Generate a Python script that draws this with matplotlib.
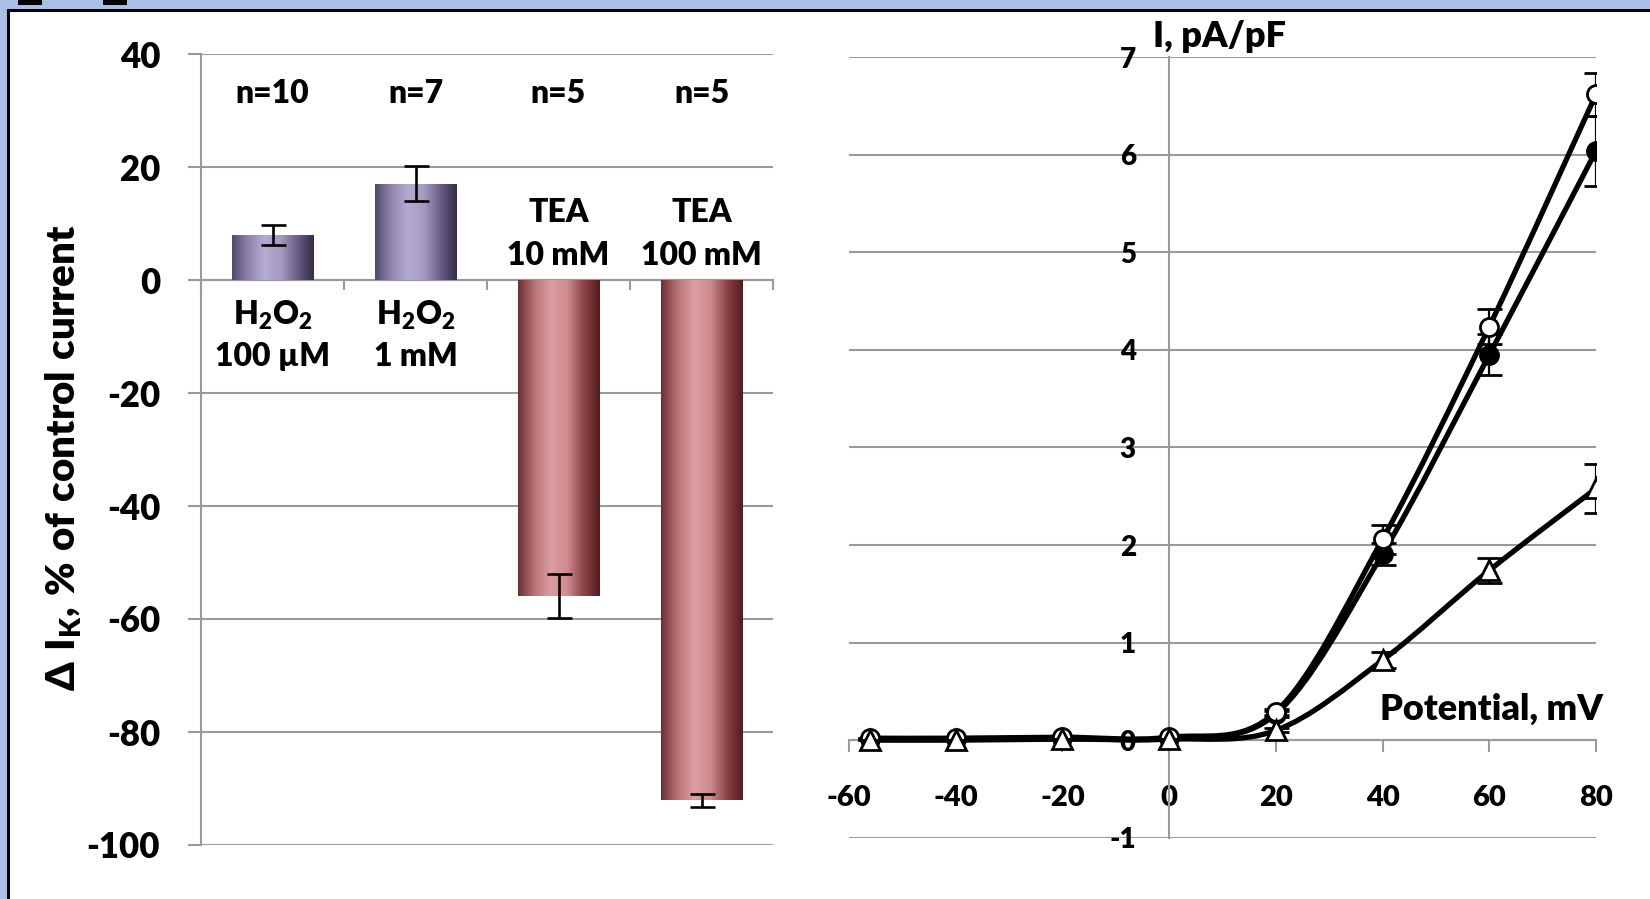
import matplotlib
matplotlib.use('Agg')
import matplotlib.pyplot as plt
import numpy as np
from matplotlib.colors import LinearSegmentedColormap
from matplotlib.patches import Rectangle, PathPatch
from matplotlib.path import Path

WT = 'heavy'
plt.rcParams['font.family'] = ['Lato', 'DejaVu Sans']
plt.rcParams['font.weight'] = WT
plt.rcParams['mathtext.fontset'] = 'custom'
plt.rcParams['mathtext.rm'] = 'Lato:heavy'
plt.rcParams['mathtext.it'] = 'Lato:heavy'
plt.rcParams['mathtext.bf'] = 'Lato:heavy'
plt.rcParams['mathtext.default'] = 'rm'

# left panel: change of K current, % of control
bar_n = ['n=10', 'n=7', 'n=5', 'n=5']
bar_line1 = ['$H_2O_2$', '$H_2O_2$', 'TEA', 'TEA']
bar_line2 = ['100 µM', '1 mM', '10 mM', '100 mM']
bar_vals = [8.0, 17.0, -55.9, -92.1]
bar_err = [1.8, 3.1, 3.9, 1.1]
left_yticks = [-100, -80, -60, -40, -20, 0, 20, 40]

# right panel: I-V curves
volt = [-56, -40, -20, 0, 20, 40, 60, 80]
i_open = [0.02, 0.02, 0.03, 0.03, 0.29, 2.06, 4.24, 6.62]
i_open_err = [0, 0, 0, 0, 0.03, 0.15, 0.18, 0.22]
i_fill = [0.01, 0.01, 0.02, 0.02, 0.27, 1.91, 3.95, 6.04]
i_fill_err = [0, 0, 0, 0, 0.03, 0.11, 0.21, 0.36]
i_tri = [0.0, 0.0, 0.01, 0.01, 0.10, 0.82, 1.74, 2.58]
i_tri_err = [0, 0, 0, 0, 0.02, 0.08, 0.13, 0.25]
right_xticks = [-60, -40, -20, 0, 20, 40, 60, 80]
right_yticks = [-1, 0, 1, 2, 3, 4, 5, 6, 7]

W, H = 1650, 899
grid_c = '#9a9a9a'


def smooth_path(xs, ys):
    # Excel style smoothed line through the points (Bezier segments)
    pts = np.column_stack([xs, ys]).astype(float)
    n = len(pts)
    verts = [pts[0]]
    codes = [Path.MOVETO]
    for i in range(n - 1):
        p0 = pts[max(i - 1, 0)]
        p1 = pts[i]
        p2 = pts[i + 1]
        p3 = pts[min(i + 2, n - 1)]
        verts += [p1 + (p2 - p0) / 6, p2 - (p3 - p1) / 6, p2]
        codes += [Path.CURVE4] * 3
    return Path(verts, codes)


fig = plt.figure(figsize=(W / 100, H / 100), dpi=100)
fig.patch.set_facecolor('#a9c0e6')
fig.patches.append(Rectangle((8 / W, -0.1), 1.2, 1.1 - 9.5 / H, transform=fig.transFigure,
                             facecolor='white', edgecolor='black', lw=2.2, zorder=-10))
for x0 in (18, 103):
    fig.patches.append(Rectangle((x0 / W, 1 - 5 / H), 24 / W, 5 / H, transform=fig.transFigure,
                                 facecolor='black', edgecolor='none'))

# ---------------- left chart ----------------
axL = fig.add_axes([201 / W, 1 - 845 / H, 572 / W, (845 - 54) / H])
axL.set_facecolor('none')
xs = np.arange(len(bar_vals))
bars = axL.bar(xs, bar_vals, width=0.57, color='none', edgecolor='none', zorder=3)

cm_purple = LinearSegmentedColormap.from_list('pu', ['#52476c', '#9185b0', '#b6abd2', '#a699c2', '#6a5d86', '#362b47'])
cm_red = LinearSegmentedColormap.from_list('rd', ['#6b2f31', '#b87276', '#dc9ea1', '#cf8d90', '#8e4448', '#521c1e'])
grad = np.linspace(0, 1, 256).reshape(1, -1)
for b, v in zip(bars, bar_vals):
    cm = cm_purple if v > 0 else cm_red
    x0, w = b.get_x(), b.get_width()
    y0, y1 = sorted([0, v])
    im = axL.imshow(grad, extent=(x0, x0 + w, y0, y1), aspect='auto', cmap=cm,
                    interpolation='bicubic', zorder=3)
    im.set_clip_path(b)

axL.errorbar(xs, bar_vals, yerr=bar_err, fmt='none', ecolor='black', elinewidth=1.9,
             capsize=9, capthick=1.9, zorder=5)

axL.set_xlim(-0.5, 3.5)
axL.set_ylim(-100, 40)
axL.set_yticks(left_yticks)
axL.set_yticklabels([str(t) for t in left_yticks], fontweight=WT)
axL.set_xticks(np.arange(-0.5, 4, 1))
axL.set_xticklabels([])
axL.grid(axis='y', color=grid_c, lw=1.5)
axL.set_axisbelow(True)
for s in ('top', 'right'):
    axL.spines[s].set_visible(False)
axL.spines['bottom'].set_position(('data', 0))
for s in ('left', 'bottom'):
    axL.spines[s].set_color(grid_c)
    axL.spines[s].set_linewidth(1.5)
axL.tick_params(axis='y', length=9.4, width=1.5, color=grid_c, pad=20, labelsize=25)
axL.tick_params(axis='x', length=7, width=1.5, color=grid_c, direction='out')

for i, v in enumerate(bar_vals):
    axL.text(i, 31.4, bar_n[i], ha='center', va='baseline', fontsize=23, fontweight=WT)
    if v > 0:
        b1, b2 = -8.0, -15.2
    else:
        b1, b2 = 10.3, 2.65
    axL.text(i, b1, bar_line1[i], ha='center', va='baseline', fontsize=23, fontweight=WT)
    axL.text(i, b2, bar_line2[i], ha='center', va='baseline', fontsize=23, fontweight=WT)

axL.set_ylabel(r'$Δ\ I_K{,}\ \%\ of\ control\ current$', fontsize=29, fontweight=WT)
axL.yaxis.set_label_coords(-0.205, 0.49)

# ---------------- right chart ----------------
axR = fig.add_axes([849 / W, 1 - 837.7 / H, 747 / W, (837.7 - 57.3) / H])
axR.set_facecolor('none')
axR.set_xlim(-60, 80)
axR.set_ylim(-1, 7)
axR.set_xticks(right_xticks)
axR.set_xticklabels([str(t) for t in right_xticks], fontweight=WT)
axR.set_yticks(right_yticks)
axR.set_yticklabels([str(t) for t in right_yticks], fontweight=WT)
axR.grid(axis='y', color=grid_c, lw=1.5)
axR.set_axisbelow(True)
for s in ('top', 'right'):
    axR.spines[s].set_visible(False)
axR.spines['left'].set_position(('data', 0))
axR.spines['bottom'].set_position(('data', 0))
for s in ('left', 'bottom'):
    axR.spines[s].set_color(grid_c)
    axR.spines[s].set_linewidth(1.5)
axR.tick_params(axis='y', length=0, pad=24, labelsize=20)
axR.tick_params(axis='x', length=8.6, width=1.5, color=grid_c, direction='out', pad=24, labelsize=21)

for ys in (i_tri, i_fill, i_open):
    axR.add_patch(PathPatch(smooth_path(volt, ys), facecolor='none', edgecolor='black',
                            lw=3.8, zorder=3, capstyle='round'))

axR.errorbar(volt, i_fill, yerr=i_fill_err, fmt='o', ms=13, mfc='black', mec='black', mew=2,
             ecolor='black', elinewidth=1.6, capsize=9, capthick=1.6, zorder=4)
axR.errorbar(volt, i_open, yerr=i_open_err, fmt='o', ms=13, mfc='white', mec='black', mew=2,
             ecolor='black', elinewidth=1.6, capsize=9, capthick=1.6, zorder=5)
axR.errorbar(volt, i_tri, yerr=i_tri_err, fmt='^', ms=14, mfc='white', mec='black', mew=2,
             ecolor='black', elinewidth=1.6, capsize=9, capthick=1.6, zorder=6)

axR.text(-3, 7.105, 'I, pA/pF', ha='left', va='baseline', fontsize=26, fontweight=WT)
axR.text(39.5, 0.206, 'Potential, mV', ha='left', va='baseline', fontsize=26, fontweight=WT)

fig.savefig('out.png', dpi=100)
